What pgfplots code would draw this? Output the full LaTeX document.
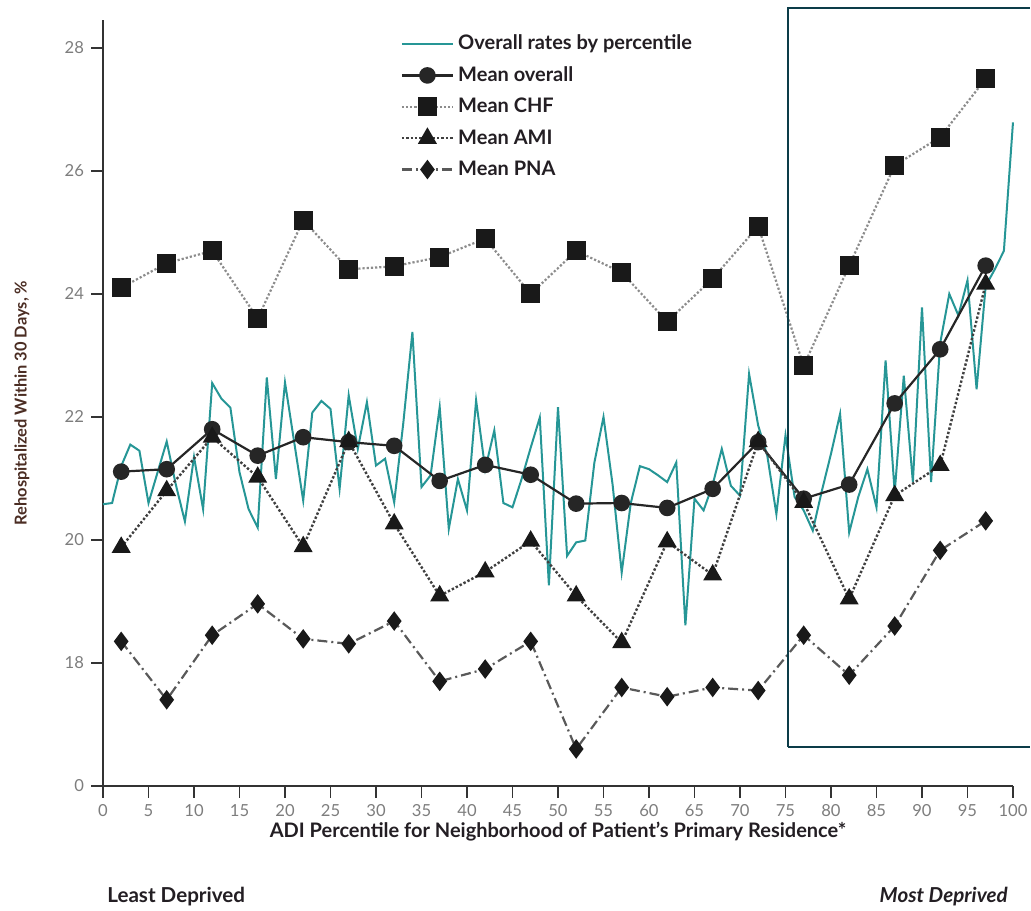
\documentclass[border=0pt]{standalone}
\usepackage{pgfplots}
\pgfplotsset{compat=1.18}
\usepackage{fontspec}
\setmainfont{Lato}
\definecolor{tealline}{RGB}{38,150,150}
\definecolor{boxcol}{RGB}{12,60,72}
\definecolor{ticklab}{RGB}{125,125,125}
\definecolor{ylab}{RGB}{75,45,35}
\definecolor{txt}{RGB}{35,30,35}

\begin{document}
\begin{tikzpicture}
\begin{axis}[
  scale only axis, width=455pt, height=382.8pt,
  xmin=0, xmax=100, ymin=16, ymax=28.45,
  axis lines=left,
  axis line style={draw=black!80, line width=1pt, -},
  xtick={0,5,...,100}, ytick={16,18,20,22,24,26,28},
  yticklabels={0,18,20,22,24,26,28},
  tick align=outside, major tick length=6pt,
  tick style={black!80, line width=0.8pt},
  ticklabel style={font=\fontsize{8.3}{9}\selectfont, text=ticklab},
  /pgf/number format/assume math mode=true,
  xlabel={ADI Percentile for Neighborhood of Patient's Primary Residence*},
  xlabel style={at={([yshift=-23pt]axis description cs:0.5,0)}, anchor=center, font=\fontsize{10}{12}\selectfont\bfseries, text=txt},
  ylabel={Rehospitalized Within 30 Days, \%},
  ylabel style={at={([xshift=-40.5pt]axis description cs:0,0.5)}, anchor=center, font=\fontsize{8.2}{10}\selectfont\bfseries, text=ylab},
  clip=false,
  legend style={at={(axis description cs:0.32,0.992)}, anchor=north west, draw=none, fill=none,
    font=\fontsize{10}{12}\selectfont\bfseries, text=txt, row sep=2.9pt, cells={anchor=west}},
  legend image code/.code={\draw[mark repeat=2,mark phase=2] plot coordinates {(0cm,0cm) (0.45cm,0cm) (0.9cm,0cm)};},
]
\addplot[tealline, line width=1pt, mark=none] coordinates {
(0,20.58) (1,20.6) (2,21.2) (3,21.55) (4,21.45) (5,20.6) (6,21.1) (7,21.6) (8,20.9) (9,20.3)
(10,21.35) (11,20.5) (12,22.55) (13,22.3) (14,22.15) (15,21.1) (16,20.5) (17,20.2) (18,22.64) (19,20.99)
(20,22.56) (21,21.6) (22,20.64) (23,22.07) (24,22.26) (25,22.13) (26,20.83) (27,22.35) (28,21.48) (29,22.24)
(30,21.21) (31,21.32) (32,20.61) (33,21.9) (34,23.38) (35,20.86) (36,21.05) (37,22.16) (38,20.18) (39,20.99)
(40,20.48) (41,22.27) (42,21.15) (43,21.78) (44,20.6) (45,20.53) (46,20.99) (47,21.5) (48,21.99) (49,19.26)
(50,22.16) (51,19.74) (52,19.96) (53,19.99) (54,21.26) (55,22.0) (56,20.9) (57,19.47) (58,20.6) (59,21.2)
(60,21.15) (61,21.05) (62,20.94) (63,21.26) (64,18.61) (65,20.67) (66,20.48) (67,20.9) (68,21.48) (69,20.88)
(70,20.72) (71,22.7) (72,21.86) (73,21.37) (74,20.42) (75,21.7) (76,20.7) (77,20.48) (78,20.15) (79,20.8)
(80,21.4) (81,22.05) (82,20.12) (83,20.7) (84,21.15) (85,20.53) (86,22.92) (87,20.77) (88,22.67) (89,20.94)
(90,23.78) (91,20.94) (92,23.2) (93,24.0) (94,23.65) (95,24.22) (96,22.45) (97,24.13) (98,24.4) (99,24.7)
(100,26.79)};
\addlegendentry{Overall rates by percentile}
\addplot[black!85, line width=1.1pt, mark=*, mark size=3.6pt, mark options={solid, fill=black!85}] coordinates {
(2,21.11) (7,21.15) (12,21.80) (17,21.37) (22,21.67) (27,21.59) (32,21.53) (37,20.96) (42,21.22) (47,21.06)
(52,20.59) (57,20.60) (62,20.52) (67,20.83) (72,21.59) (77,20.67) (82,20.9) (87,22.22) (92,23.1) (97,24.46)};
\addlegendentry{Mean overall}
\addplot[black!45, line width=1.1pt, densely dotted, mark=square*, mark size=4.2pt, mark options={solid, fill=black!90, draw=black!90}] coordinates {
(2,24.1) (7,24.5) (12,24.7) (17,23.6) (22,25.2) (27,24.4) (32,24.45) (37,24.6) (42,24.9) (47,24.0)
(52,24.7) (57,24.35) (62,23.55) (67,24.25) (72,25.1) (77,22.83) (82,24.46) (87,26.09) (92,26.55) (97,27.5)};
\addlegendentry{Mean CHF}
\addplot[black!75, line width=1.2pt, densely dotted, mark=triangle*, mark size=4.3pt, mark options={solid, fill=black!90, draw=black!90}] coordinates {
(2,19.88) (7,20.8) (12,21.67) (17,21.02) (22,19.89) (27,21.6) (32,20.26) (37,19.09) (42,19.48) (47,19.98)
(52,19.09) (57,18.33) (62,19.97) (67,19.43) (72,21.6) (77,20.61) (82,19.04) (87,20.72) (92,21.21) (97,24.16)};
\addlegendentry{Mean AMI}
\addplot[black!65, line width=1.1pt, dash pattern=on 5pt off 2pt on 1pt off 2pt, mark=diamond*, mark size=4pt, mark options={solid, fill=black!90, draw=black!90}] coordinates {
(2,18.35) (7,17.4) (12,18.45) (17,18.96) (22,18.39) (27,18.31) (32,18.68) (37,17.7) (42,17.9) (47,18.35)
(52,16.6) (57,17.6) (62,17.45) (67,17.6) (72,17.55) (77,18.45) (82,17.8) (87,18.6) (92,19.83) (97,20.31)};
\addlegendentry{Mean PNA}
\draw[boxcol, line width=1.2pt] (axis cs:75.3,16.63) -- (axis cs:75.3,28.65) -- (axis cs:101.9,28.65);
\draw[boxcol, line width=1.2pt] (axis cs:75.3,16.63) -- (axis cs:101.9,16.63);
\node[anchor=west, font=\fontsize{10.3}{12}\selectfont\bfseries, text=txt] at (axis cs:-0.3,14.2) {Least Deprived};
\node[anchor=east, font=\fontsize{10.3}{12}\selectfont\bfseries\itshape, text=txt] at (axis cs:100.2,14.2) {Most Deprived};
\coordinate (bbsw) at (axis cs:-11.32,13.98);
\coordinate (bbne) at (axis cs:101.98,28.78);
\end{axis}
\pgfresetboundingbox
\path[use as bounding box] (bbsw) rectangle (bbne);
\end{tikzpicture}
\end{document}
